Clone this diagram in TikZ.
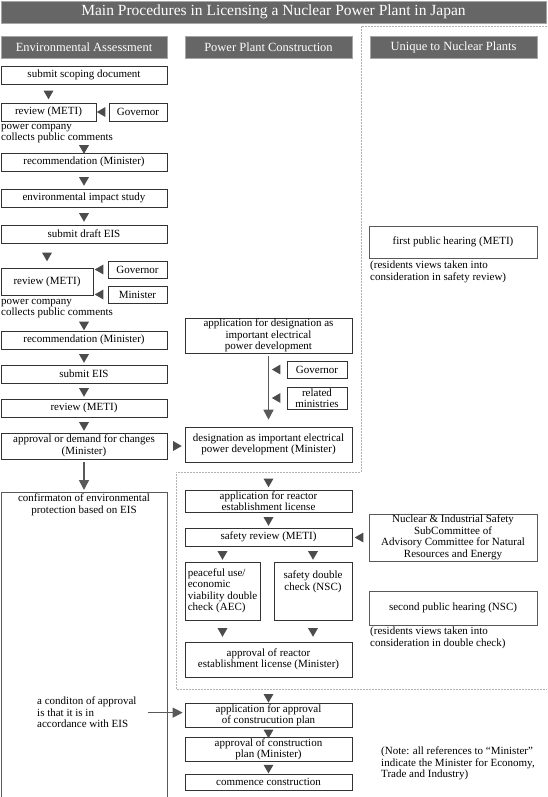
\documentclass[tikz,border=0pt]{standalone}
\usepackage{fontspec}
\setmainfont{Liberation Serif}
\usepackage{tikz}
\usetikzlibrary{positioning,arrows.meta,shapes.geometric,shadows}

\begin{document}
\begin{tikzpicture}[x=1pt,y=-1pt,
		font=\fontsize{11}{11.5}\selectfont,
		hd/.style={rectangle,draw=black!35,fill=black!60,text=white,inner sep=0pt,minimum height=22pt,font=\fontsize{12.5}{14}\selectfont,drop shadow={shadow xshift=1pt,shadow yshift=-1pt,fill=black!85,opacity=1}},
		g/.style={rectangle,draw=black!80,fill=white,line width=0.6pt,inner sep=1pt,align=center,minimum height=18pt,drop shadow={shadow xshift=1pt,shadow yshift=-1pt,fill=black!30,opacity=1}},
		pl/.style={rectangle,draw=black!65,fill=white,line width=0.6pt,inner sep=1pt,align=center},
		c/.style={align=left,inner sep=0pt},
		tri/.style={regular polygon,regular polygon sides=3,fill=black!70,inner sep=0pt,minimum size=11.5pt},
		tdn/.style={tri,shape border rotate=180},
		tlt/.style={tri,shape border rotate=90},
		trt/.style={tri,shape border rotate=-90},
		a/.style={draw=black!65,line width=1.5pt,-{Triangle[length=10pt,width=10pt]}},
		fr/.style={draw=black!30,line width=0.5pt,dash pattern=on 2pt off 1pt}
		]
		
		\useasboundingbox (0,0) rectangle (547,797);
		
		\draw [fr] (547,26) -- (361,26) -- (361,472) -- (176,472) -- (176,689) -- (547,689);
		
		\node [hd,minimum width=545pt,font=\fontsize{15.5}{17}\selectfont] (title) at (273.5,12) {Main Procedures in Licensing a Nuclear Power Plant in Japan};
		\node [hd,minimum width=166pt] (envhead) at (84,47) {Environmental Assessment};
		\node [hd,minimum width=167pt] (planthead) at (268.5,47) {Power Plant Construction};
		\node [hd,minimum width=167pt] (nuclearhead) at (453.5,47) {Unique to Nuclear Plants};
		
		\node [g,minimum width=166pt] (scope) at (84,75) {submit scoping document};
		\node [g,minimum width=95pt] (review1) at (48.5,112) {review (METI)};
		\node [g,minimum width=58pt] (governor1) at (138,112) {Governor};
		\node [c,anchor=north west] (comments1) at (1,124) {power company\\collects public comments};
		\node [g,minimum width=166pt] (recommend1) at (84,162) {recommendation (Minister)};
		\node [g,minimum width=166pt] (study) at (84,198) {environmental impact study};
		\node [g,minimum width=166pt] (draft) at (84,234) {submit draft EIS};
		\node [g,minimum width=92pt,minimum height=27pt] (review2) at (47,281.5) {review (METI)};
		\node [g,minimum width=59pt,minimum height=17pt] (governor2) at (137.5,269.5) {Governor};
		\node [g,minimum width=59pt,minimum height=17pt] (minister2) at (137.5,294.5) {Minister};
		\node [c,anchor=north west] (comments2) at (1,299) {power company\\collects public comments};
		\node [g,minimum width=166pt] (recommend2) at (84,340) {recommendation (Minister)};
		\node [g,minimum width=166pt] (eis) at (84,374) {submit EIS};
		\node [g,minimum width=166pt] (review3) at (84,408) {review (METI)};
		\node [g,minimum width=166pt,minimum height=26pt] (approval) at (84,446) {approval or demand for changes\\(Minister)};
		\node [pl,minimum width=166pt,minimum height=320pt,anchor=north] (confirm) at (84,492) {};
		\node [c,align=center,below=2pt of confirm.north] (confirmtext) {confirmaton of environmental\\protection based on EIS};
		\node [c,anchor=north west] (condition) at (37,697) {a conditon of approval\\is that it is in\\accordance with EIS};
		
		\node [g,minimum width=167pt,minimum height=35pt] (application) at (268.5,335.5) {application for designation as\\important electrical\\power development};
		\node [g,minimum width=60pt,minimum height=17pt] (governor3) at (317,369.5) {Governor};
		\node [g,minimum width=60pt,minimum height=22pt] (ministries) at (317,398) {related\\ministries};
		\node [g,minimum width=167pt,minimum height=35pt] (designation) at (268.5,444.5) {designation as important electrical\\power development (Minister)};
		\node [g,minimum width=167pt,minimum height=22pt] (reactorapp) at (268.5,501) {application for reactor\\establishment license};
		\node [g,minimum width=167pt] (safety) at (268.5,537) {safety review (METI)};
		\node [g,minimum width=75pt,minimum height=58pt,align=left] (peaceful) at (222.5,591) {peaceful use/\\economic\\viability double\\check (AEC)};
		\node [g,minimum width=78pt,minimum height=58pt] (nsccheck) at (313,591) {\parbox[t][40pt][t]{74pt}{\centering safety double\\check (NSC)}};
		\node [g,minimum width=167pt,minimum height=35pt] (reactorapproval) at (268.5,659.5) {approval of reactor\\establishment license (Minister)};
		\node [g,minimum width=167pt,minimum height=21pt] (planapp) at (268.5,715.5) {application for approval\\of construcution plan};
		\node [g,minimum width=167pt,minimum height=21pt] (planapproval) at (268.5,749.5) {approval of construction\\plan (Minister)};
		\node [g,minimum width=167pt,minimum height=16pt] (construction) at (268.5,782) {commence construction};
		
		\node [pl,minimum width=168pt,minimum height=32pt] (hearing1) at (453,242) {first public hearing (METI)};
		\node [c,anchor=north west] (hearing1note) at (370,261) {(residents views taken into\\consideration in safety review)};
		\node [pl,minimum width=168pt,minimum height=47pt] (subcommittee) at (453,537.5) {Nuclear \& Industrial Safety\\SubCommittee of\\Advisory Committee for Natural\\Resources and Energy};
		\node [pl,minimum width=168pt,minimum height=34pt] (hearing2) at (453,608) {second public hearing (NSC)};
		\node [c,anchor=north west] (hearing2note) at (370,627) {(residents views taken into\\consideration in double check)};
		\node [c,anchor=north west] (note) at (381,747) {(Note: all references to ``Minister''\\indicate the Minister for Economy,\\Trade and Industry)};
		
		\path (scope.south -| review1) -- node[tdn]{} (review1.north);
		\path (governor1.west) -- node[tlt]{} (review1.east);
		\path (comments1.south -| recommend1) -- node[tdn]{} (recommend1.north);
		\path (recommend1.south) -- node[tdn]{} (study.north);
		\path (study.south) -- node[tdn]{} (draft.north);
		\path (draft.south -| review2) -- node[tdn]{} (review2.north);
		\path (governor2.west) -- node[tlt]{} (governor2.west -| review2.east);
		\path (minister2.west) -- node[tlt]{} (minister2.west -| review2.east);
		\path (comments2.south -| recommend2) -- node[tdn]{} (recommend2.north);
		\path (recommend2.south) -- node[tdn]{} (eis.north);
		\path (eis.south) -- node[tdn]{} (review3.north);
		\path (review3.south) -- node[tdn]{} (approval.north);
		\path (approval.east) -- node[trt]{} (approval.east -| designation.west);
		\path [a,shorten <=3pt,shorten >=2pt] (approval) -- (confirm);
		
		\path [a,shorten <=3pt,shorten >=7pt] (application) -- (designation);
		\path (governor3.west) -- node[tlt]{} (governor3.west -| application.south);
		\path (ministries.west) -- node[tlt]{} (ministries.west -| application.south);
		\path (designation.south) -- node[tdn,pos=.7]{} (reactorapp.north);
		\path (reactorapp.south) -- node[tdn]{} (safety.north);
		\path (subcommittee.west) -- node[tlt]{} (subcommittee.west -| safety.east);
		\path (safety.south -| peaceful) -- node[tdn]{} (peaceful.north);
		\path (safety.south -| nsccheck) -- node[tdn]{} (nsccheck.north);
		\path (peaceful.south) -- node[tdn]{} (peaceful.south |- reactorapproval.north);
		\path (nsccheck.south) -- node[tdn]{} (nsccheck.south |- reactorapproval.north);
		\path (reactorapproval.south) -- node[tdn,pos=.75]{} (planapp.north);
		\path (planapp.south) -- node[tdn]{} (planapproval.north);
		\path (planapproval.south) -- node[tdn]{} (construction.north);
		\path [a,line width=1pt,shorten <=11pt,shorten >=2pt] (condition) -- (condition -| planapp.west);
		
	\end{tikzpicture}
\end{document}
